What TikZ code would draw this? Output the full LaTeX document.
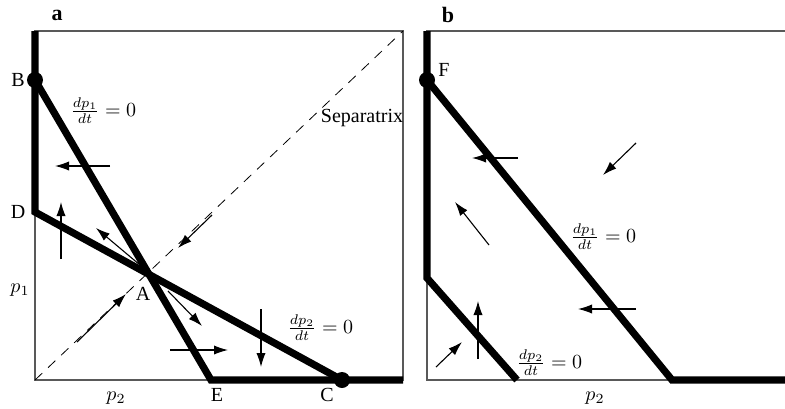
\documentclass[tikz,border=0pt]{standalone}
\usepackage{fontspec}
\setmainfont{Liberation Serif}
\usetikzlibrary{arrows.meta}
\begin{document}
\begin{tikzpicture}[x=0.5pt,y=-0.5pt,
  frame/.style={draw=black!65,line width=0.6pt},
  nullc/.style={draw=black,line width=3.6pt,line join=miter},
  vec/.style={draw=black,line width=0.55pt,-{Latex[length=7pt,width=4.6pt]}},
  sep/.style={draw=black,line width=0.4pt,dash pattern=on 5pt off 4pt},
  dot/.style={circle,fill=black,inner sep=0pt,minimum size=8pt},
  lbl/.style={font=\fontsize{10}{12}\selectfont,inner sep=0pt},
  eq/.style={font=\fontsize{10}{12}\selectfont,inner sep=0pt,anchor=west}]
\useasboundingbox (0,0) rectangle (785,408);
% ---------- panel a ----------
\coordinate (aTL) at (35,31);
\coordinate (aTR) at (403,31);
\coordinate (aBL) at (35,380);
\coordinate (aBR) at (403,380);
\coordinate (B) at (35,80);
\coordinate (D) at (35,212);
\coordinate (E) at (211,380);
\coordinate (C) at (342,380);
\draw[frame] (aBL) -- (aTL) -- (aTR) -- (aBR) -- cycle;
\draw[sep] (aBL) -- (aTR);
\draw[nullc] (aTL) -- (D) -- (C);
\draw[nullc] (B) -- (E) -- (aBR);
\node[dot] (Bd) at (B) {};
\node[dot] (Cd) at (C) {};
\coordinate (A) at (149,274);
% arrows panel a
\draw[vec] (110,166) -- (55,166);
\draw[vec] (61,259) -- (61,202);
\draw[vec] (140,265) -- (96,228);
\draw[vec] (212,215) -- (178,248);
\draw[vec] (77,342) -- (126,294);
\draw[vec] (168,291) -- (202,326);
\draw[vec] (170,350) -- (228,350);
\draw[vec] (261,309) -- (261,367);
% labels panel a
\node[lbl,font=\fontsize{11}{13}\selectfont\bfseries] (la) at (57,15) {a};
\node[lbl] (lB) at (18,80) {B};
\node[lbl] (lD) at (18,212) {D};
\node[lbl] (lA) at (143,294) {A};
\node[lbl] (lE) at (217,395) {E};
\node[lbl] (lC) at (327,395) {C};
\node[lbl] (lp1) at (20,290) {$p_1$};
\node[lbl] (lp2a) at (116,398) {$p_2$};
\node[lbl] (lsep) at (362,118) {Separatrix};
\node[eq] (eq1a) at (70,111) {$\frac{dp_1}{dt}=0$};
\node[eq] (eq2a) at (287,328) {$\frac{dp_2}{dt}=0$};
% ---------- panel b ----------
\coordinate (bTL) at (427,31);
\coordinate (bTR) at (785,31);
\coordinate (bBL) at (427,380);
\coordinate (bBR) at (785,380);
\coordinate (F) at (427,80);
\coordinate (G) at (427,278);
\coordinate (H) at (517,380);
\coordinate (K) at (672,380);
\draw[frame] (bTR) -- (bTL) -- (bBL) -- (K);
\draw[nullc] (bTL) -- (G) -- (H);
\draw[nullc] (F) -- (K) -- (bBR);
\node[dot] (Fd) at (F) {};
% arrows panel b
\draw[vec] (518,158) -- (472,158);
\draw[vec] (636,143) -- (603,175);
\draw[vec] (489,245) -- (455,202);
\draw[vec] (636,309) -- (578,309);
\draw[vec] (478,359) -- (478,301);
\draw[vec] (436,367) -- (462,342);
% labels panel b
\node[lbl,font=\fontsize{11}{13}\selectfont\bfseries] (lb) at (448,15) {b};
\node[lbl] (lF) at (444,70) {F};
\node[lbl] (lp2b) at (595,398) {$p_2$};
\node[eq] (eq1b) at (570,237) {$\frac{dp_1}{dt}=0$};
\node[eq] (eq2b) at (516,363) {$\frac{dp_2}{dt}=0$};
\end{tikzpicture}
\end{document}
